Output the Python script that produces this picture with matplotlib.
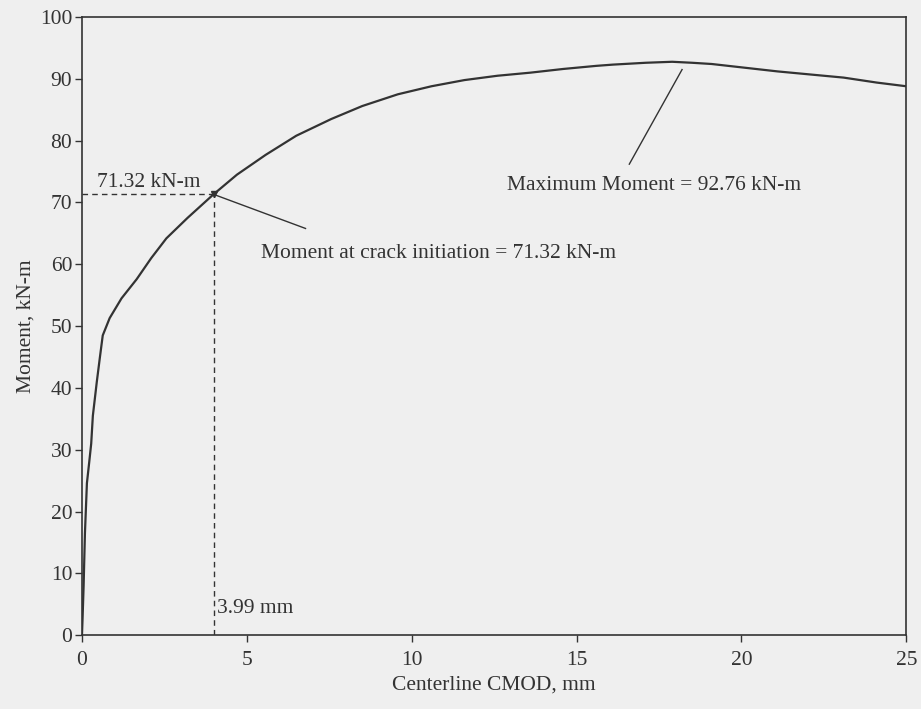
import matplotlib
matplotlib.use("Agg")
import matplotlib.pyplot as plt

# Data
cmod = [0, 0.02, 0.05, 0.09, 0.15, 0.22, 0.28, 0.33, 0.45, 0.54, 0.63, 0.84, 1.2,
        1.66, 2.1, 2.56, 3.2, 3.99, 4.7, 5.57, 6.5, 7.56, 8.5, 9.58, 10.6, 11.6,
        12.6, 13.6, 14.6, 15.6, 16.1, 17.1, 17.9, 18.5, 19.1, 20.1, 21.1, 22.1,
        23.1, 24.1, 25]
moment = [0, 3, 8, 16.5, 24.6, 28, 31, 35.5, 41, 44.8, 48.5, 51.3, 54.5,
          57.6, 61, 64.2, 67.5, 71.32, 74.5, 77.7, 80.8, 83.5, 85.6, 87.5, 88.8, 89.8,
          90.5, 91.0, 91.6, 92.1, 92.3, 92.6, 92.76, 92.6, 92.4, 91.8, 91.2, 90.7,
          90.2, 89.4, 88.8]

crack_x = 3.99
crack_m = 71.32
max_x = 18.2
max_m = 92.76

xticks = [0, 5, 10, 15, 20, 25]
yticks = [0, 10, 20, 30, 40, 50, 60, 70, 80, 90, 100]

ink = "#333333"
bg = "#efefef"
fs = 15.5

plt.rcParams['font.family'] = ['Liberation Serif', 'DejaVu Serif']

fig = plt.figure(figsize=(9.21, 7.09), dpi=100, facecolor=bg)
ax = fig.add_axes([0.089, 0.104, 0.895, 0.872], facecolor=bg)

ax.plot(cmod, moment, color=ink, lw=1.6)

# crack initiation guides
ax.plot([crack_x, crack_x], [0, crack_m], color=ink, lw=1.0, ls=(0, (4, 3)))
ax.plot([0, crack_x], [crack_m, crack_m], color=ink, lw=1.0, ls=(0, (4, 3)))
ax.plot([crack_x], [crack_m], marker='v', ms=5, color=ink)
ax.text(0.45, crack_m + 0.3, "71.32 kN-m", fontsize=fs, color=ink, ha='left', va='bottom')
ax.text(4.1, 4.4, "3.99 mm", fontsize=fs, color=ink, ha='left', va='center')

# annotation lines and texts
ax.plot([crack_x, 6.78], [crack_m, 65.8], color=ink, lw=1.0)
ax.text(5.42, 61.7, "Moment at crack initiation = 71.32 kN-m", fontsize=fs,
        color=ink, ha='left', va='center')
ax.plot([max_x, 16.6], [91.5, 76.2], color=ink, lw=1.0)
ax.text(12.9, 72.7, "Maximum Moment = 92.76 kN-m", fontsize=fs,
        color=ink, ha='left', va='center')

ax.set_xlim(0, 25)
ax.set_ylim(0, 100)
ax.set_xticks(xticks)
ax.set_yticks(yticks)
ax.tick_params(direction='out', length=5, width=1.0, colors=ink, labelsize=fs)
ax.tick_params(axis='x', pad=6)
ax.tick_params(axis='y', pad=2)
for s in ax.spines.values():
    s.set_color(ink)
    s.set_linewidth(1.2)

ax.set_xlabel("Centerline CMOD, mm", fontsize=fs, color=ink, labelpad=4)
ax.set_ylabel("Moment, kN-m", fontsize=fs, color=ink, labelpad=3)

fig.savefig("out.png", dpi=100, facecolor=bg)
